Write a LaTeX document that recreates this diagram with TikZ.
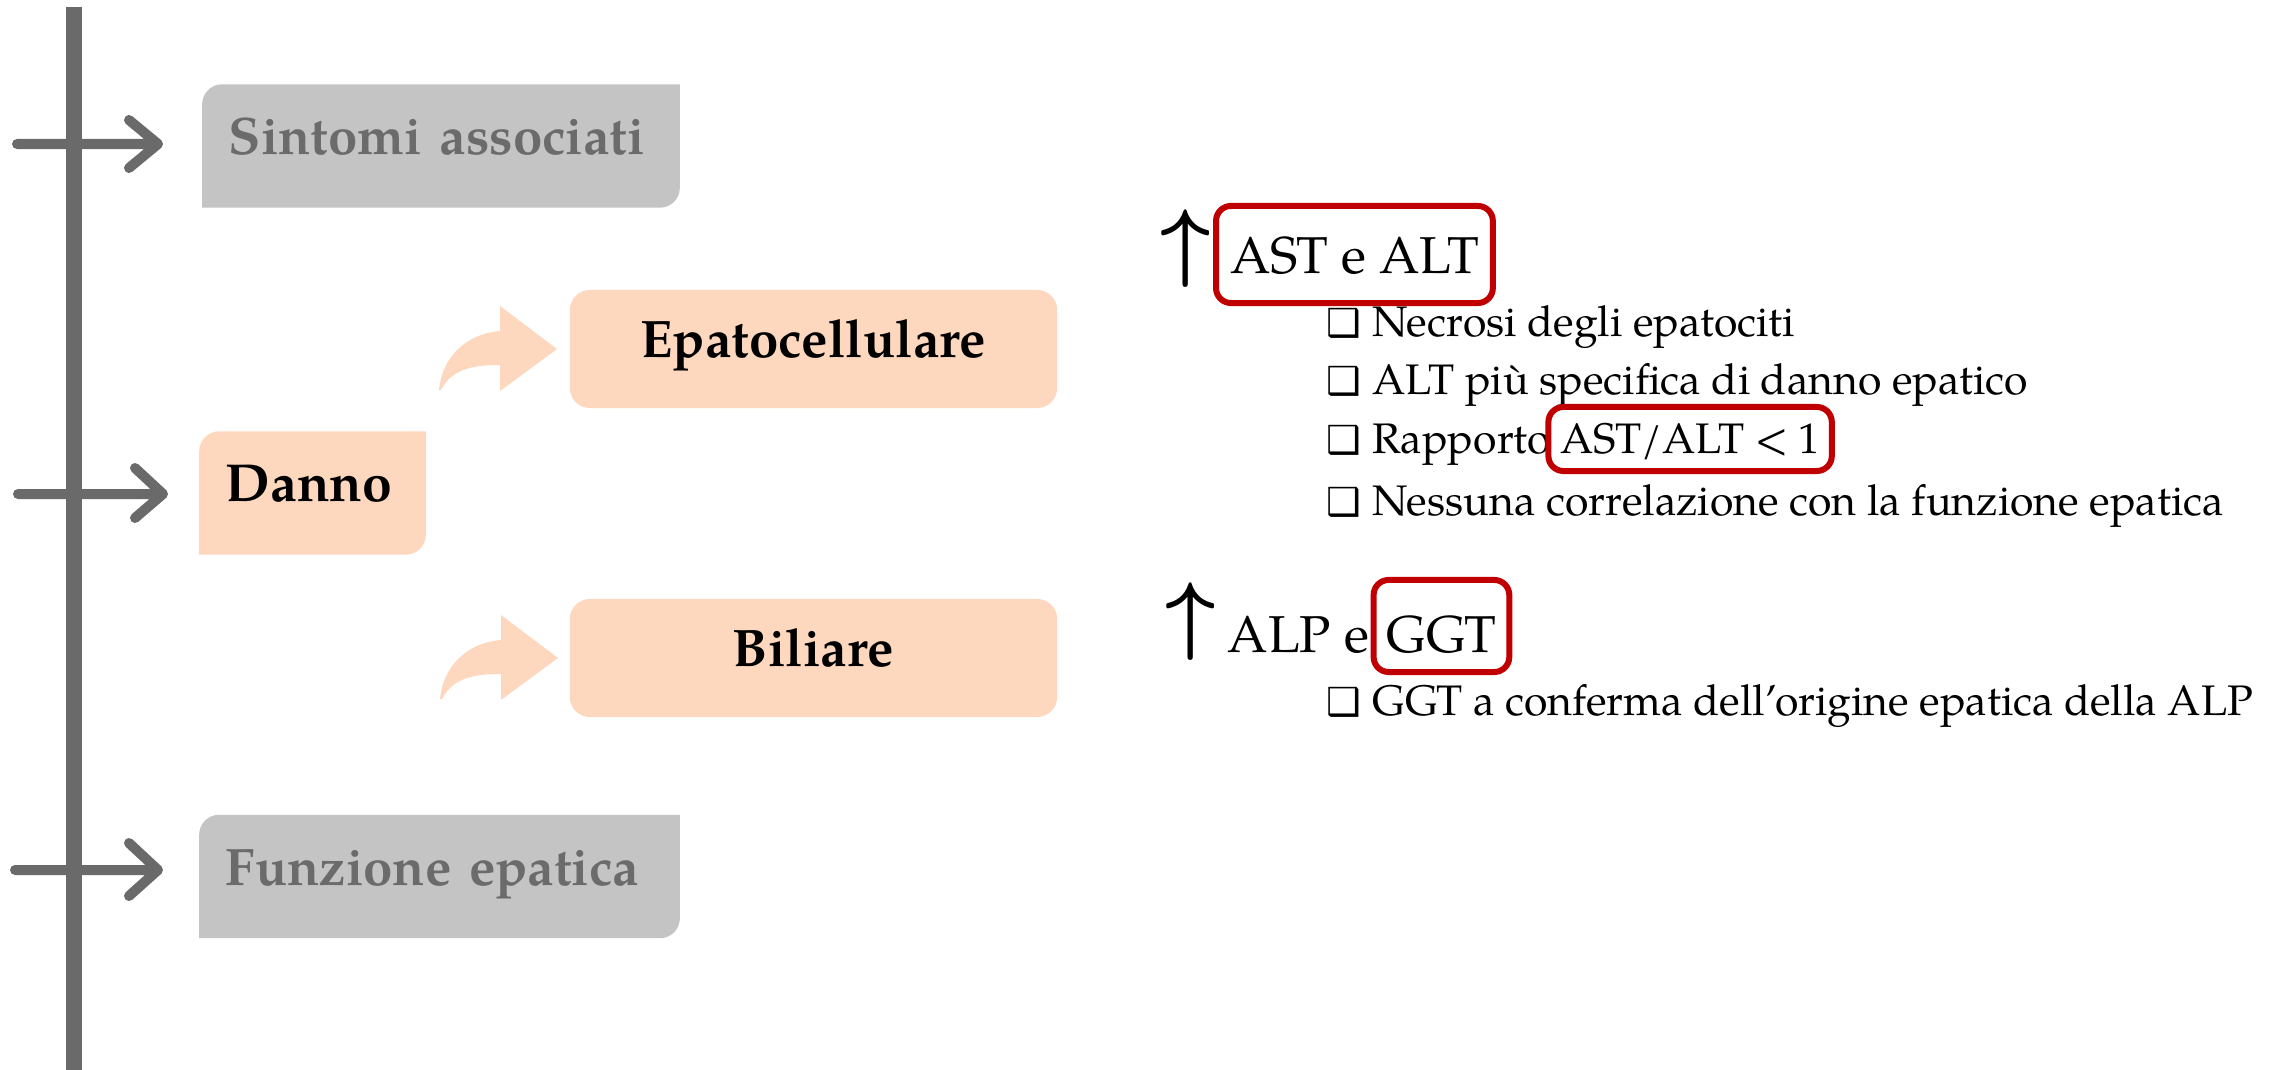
\documentclass[tikz,border=0pt]{standalone}
\usepackage{fontspec}
\setmainfont{TeX Gyre Pagella}
\newfontfamily\dejavu{DejaVu Sans}
\usetikzlibrary{backgrounds}
\definecolor{linegray}{RGB}{106,106,106}
\definecolor{boxgray}{RGB}{196,196,196}
\definecolor{txtgray}{RGB}{107,107,107}
\definecolor{peach}{RGB}{254,216,190}
\definecolor{hired}{RGB}{192,0,0}
\tikzset{
  tl/.style={line width=0.1cm, linegray, line cap=round, line join=round},
  axisline/.style={line width=0.16cm, linegray},
  lbl/.style={font=\fontsize{15.2}{18}\selectfont\bfseries, inner ysep=0pt, inner xsep=0.26cm,
     text height=0.7em, text depth=0.2em, align=left, minimum height=1.22cm},
  graylbl/.style={lbl, text=txtgray, font=\fontsize{15}{18}\selectfont\bfseries},
  peachbox/.style={fill=peach, rounded corners=0.2cm, minimum width=4.87cm, minimum height=1.18cm,
     font=\fontsize{15}{18}\selectfont\bfseries, text height=0.7em, text depth=0.2em},
  bul/.style={font=\fontsize{12.15}{15}\selectfont, inner sep=0pt, anchor=base west},
  redbox/.style={draw=hired, line width=0.06cm, rounded corners=0.15cm, inner ysep=0pt, anchor=base west},
  uparr/.style={font=\fontsize{26}{26}\selectfont\boldmath, inner sep=0pt},
  bentarrow/.pic={\fill[peach] (500,306) -- (557,349) -- (500,391) -- (500,365)
     .. controls (475,365) and (452,368) .. (441,390) -- (439,390)
     .. controls (442,358) and (465,334) .. (500,331) -- cycle;}
}
\newcommand{\bx}{{\dejavu\bfseries\fontsize{11}{12}\selectfont ❑}\hspace{0.11cm}}
\begin{document}
\begin{tikzpicture}[x=0.01cm,y=-0.01cm]
\useasboundingbox (0,0) rectangle (2282,1070);

% timeline axis
\coordinate (top) at (74,7);
\coordinate (bot) at (74,1070);
\draw[axisline] (top) -- (bot);

% left boxes
\node[graylbl, text width=4.24cm] (sint) at (441,146) {Sintomi associati};
\node[lbl, text width=1.73cm] (danno) at (312.5,493) {Danno};
\node[graylbl, text width=4.27cm] (funz) at (439.5,876.5) {Funzione epatica};

\begin{scope}[on background layer]
\fill[white] (0,0) rectangle (2282,1070);
\foreach \n/\c in {sint/boxgray, danno/peach, funz/boxgray}{
  \fill[\c] (\n.north) [rounded corners=0.2cm] -- (\n.north west) -- (\n.west) [sharp corners]
    -- (\n.south west) -- (\n.south) [rounded corners=0.2cm] -- (\n.south east) -- (\n.east)
    [sharp corners] -- (\n.north east) -- cycle;
}
\end{scope}

% arrows from the axis
\coordinate (s1) at (17,144);  \coordinate (e1) at (158,144);
\coordinate (s2) at (18,494);  \coordinate (e2) at (163,494);
\coordinate (s3) at (15,870);  \coordinate (e3) at (158,870);
\draw[tl] (s1) -- (e1) ++(-29,-24) -- (e1) -- ++(-29,24);
\draw[tl] (s2) -- (e2) ++(-28,-26) -- (e2) -- ++(-28,24);
\draw[tl] (s3) -- (e3) ++(-29,-27) -- (e3) -- ++(-29,26);

% branch boxes
\pic (ca1) at (0,0) {bentarrow};
\pic (ca2) at (1,309) {bentarrow};
\node[peachbox] (epato) at (813.5,349) {Epatocellulare};
\node[peachbox] (bil) at (813.5,658) {Biliare};

% right side: hepatocellular
\node[uparr] (up1) at (1186,249) {$\uparrow$};
\node[redbox, font=\fontsize{14.75}{18}\selectfont, inner xsep=0.14cm, text height=0.67cm, text depth=0.30cm]
  (ast) at (1213,273) {AST e ALT};
\node[bul] (b1) at (1326,337) {\bx Necrosi degli epatociti};
\node[bul] (b2) at (1326,394) {\bx ALT più specifica di danno epatico};
\node[bul] (b3) at (1326,453) {\bx Rapporto};
\node[redbox, font=\fontsize{12.15}{15}\selectfont, inner xsep=0.12cm, text height=0.46cm, text depth=0.18cm]
  (ratio) at ([xshift=-0.06cm]b3.base east) {AST/ALT < 1};
\node[bul] (b4) at (1326,515) {\bx Nessuna correlazione con la funzione epatica};

% right side: biliary
\node[uparr] (up2) at (1191,622) {$\uparrow$};
\node[font=\fontsize{14.75}{18}\selectfont, inner sep=0pt, anchor=base west] (alp) at (1227,652) {ALP e};
\node[redbox, font=\fontsize{14.75}{18}\selectfont, inner xsep=0.13cm, text height=0.72cm, text depth=0.2cm]
  (ggt) at ([xshift=0.01cm]alp.base east) {GGT};
\node[bul] (b5) at (1326,715) {\bx GGT a conferma dell’origine epatica della ALP};
\end{tikzpicture}
\end{document}
